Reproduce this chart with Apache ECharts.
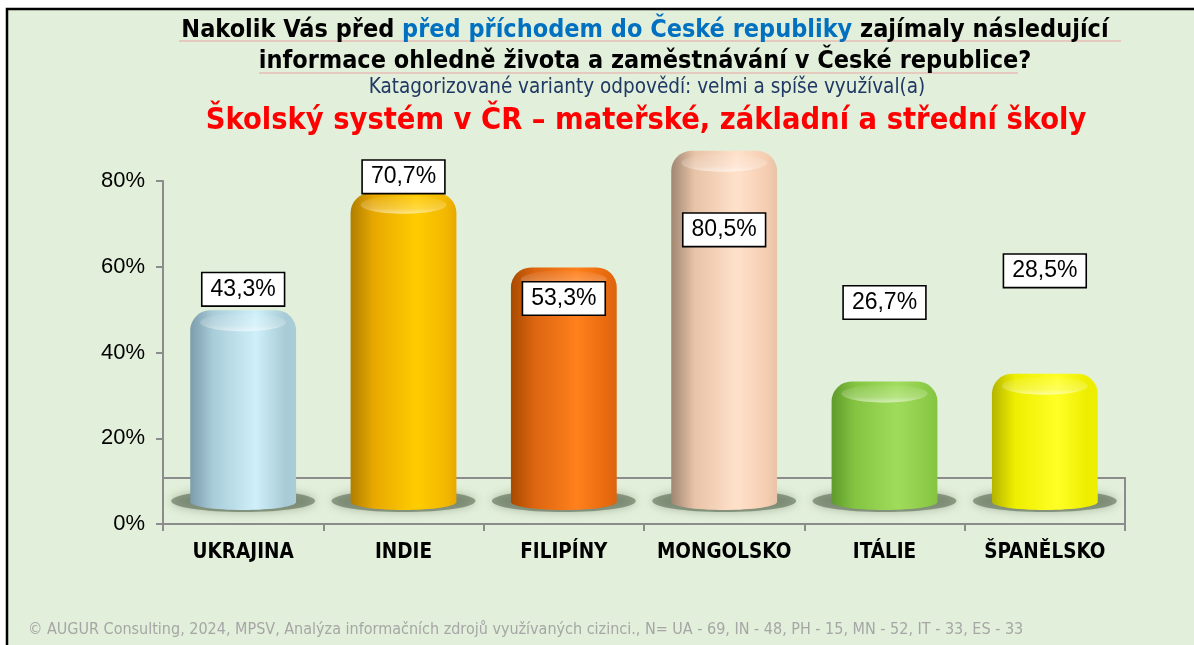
<!DOCTYPE html>
<html>
<head>
    <meta charset="utf-8">
    <script src="https://cdn.jsdelivr.net/npm/echarts@6/dist/echarts.min.js"></script>
    <style>
        html, body { margin: 0; padding: 0; background: #fff; }
        #main { width: 1194px; height: 645px; }
    </style>
</head>
<body>
<div id="main"></div>
<script type="text/javascript">
    var categories = ['UKRAJINA', 'INDIE', 'FILIPÍNY', 'MONGOLSKO', 'ITÁLIE', 'ŠPANĚLSKO'];
    var values = [43.3, 70.7, 53.3, 80.5, 26.7, 28.5];
    var yTicks = [0, 20, 40, 60, 80];

    // label placement relative to the bar top (px), as in the original slide
    var labelDy = [-49, -44, 3, 51, -107, -131];

    // cylinder shading: dark edge, mid, highlight, right edge
    var barColors = [
        ['#7c9dac', '#a9cdd9', '#cff0fa', '#a8cbd6'],
        ['#b07e00', '#e8a800', '#ffcc00', '#f2b800'],
        ['#a84a00', '#dc6510', '#ff801c', '#e86a0e'],
        ['#a08672', '#e8c3a7', '#ffe1ca', '#f5cdb1'],
        ['#5f9a2c', '#84c441', '#a0dc5c', '#8ccb48'],
        ['#b4b400', '#eeee00', '#ffff26', '#eded00']
    ];

    var narrow = '"Liberation Sans Narrow", "Arial Narrow", "DejaVu Sans Condensed", sans-serif';
    var sans = '"Liberation Sans", Arial, sans-serif';

    var myChart = echarts.init(document.getElementById('main'));

    function fmt(v) {
        return v.toFixed(1).replace('.', ',') + '%';
    }

    function renderCylinder(params, api) {
        var i = api.value(0);
        var v = api.value(1);
        var top = api.coord([i, v]);
        var base = api.coord([i, 0]);
        var w = api.size([1, 0])[0] * 0.66;
        var cx = top[0];
        var yT = top[1] - 28;
        var yB = base[1] - 22;
        var rx = w / 2;
        var c = barColors[i];
        var side = new echarts.graphic.LinearGradient(0, 0, 1, 0, [
            {offset: 0, color: c[0]},
            {offset: 0.22, color: c[1]},
            {offset: 0.62, color: c[2]},
            {offset: 0.9, color: c[3]},
            {offset: 1, color: c[1]}
        ]);
        var cap = new echarts.graphic.LinearGradient(0, 0, 0, 1, [
            {offset: 0, color: 'rgba(255,255,255,0.05)'},
            {offset: 0.7, color: 'rgba(255,255,255,0.25)'},
            {offset: 1, color: 'rgba(255,255,255,0.55)'}
        ]);
        return {
            type: 'group',
            children: [
                {
                    type: 'ellipse',
                    shape: {cx: cx, cy: yB - 1, rx: w * 0.68, ry: 11},
                    style: {fill: 'rgba(80,96,72,0.55)', shadowBlur: 10, shadowColor: 'rgba(80,96,72,0.7)'}
                },
                {
                    type: 'ellipse',
                    shape: {cx: cx, cy: yB, rx: rx, ry: 8},
                    style: {fill: side}
                },
                {
                    type: 'rect',
                    shape: {x: cx - rx, y: yT, width: w, height: yB - yT, r: [20, 20, 0, 0]},
                    style: {fill: side}
                },
                {
                    type: 'ellipse',
                    shape: {cx: cx, cy: yT + 12, rx: rx - 10, ry: 9},
                    style: {fill: cap}
                },
                {
                    type: 'text',
                    x: cx,
                    y: top[1] + labelDy[i],
                    style: {
                        text: fmt(v),
                        font: '23px ' + sans,
                        fill: '#000',
                        align: 'center',
                        verticalAlign: 'middle',
                        backgroundColor: '#fff',
                        borderColor: '#000',
                        borderWidth: 1.6,
                        padding: [5, 8, 4, 8]
                    },
                    z2: 10
                }
            ]
        };
    }

    var data = [];
    for (var i = 0; i < values.length; i++) {
        data.push([i, values[i]]);
    }

    var option = {
        backgroundColor: '#ffffff',
        animation: false,
        grid: {left: 163, right: 69, top: 181, bottom: 121},
        graphic: [
            {
                type: 'rect', z: -10,
                shape: {x: 7, y: 9, width: 1260, height: 700},
                style: {fill: '#e2efda', stroke: '#000', lineWidth: 2.5}
            },
            {
                type: 'polyline', z: -5,
                shape: {points: [[163, 478], [1125, 478], [1125, 530]]},
                style: {stroke: '#8c8c8c', lineWidth: 2, fill: null}
            },
            {
                type: 'line', z: -5,
                shape: {x1: 179, y1: 41, x2: 1121, y2: 41},
                style: {stroke: '#eba3a3', lineWidth: 1}
            },
            {
                type: 'line', z: -5,
                shape: {x1: 259, y1: 73, x2: 1018, y2: 73},
                style: {stroke: '#eba3a3', lineWidth: 1}
            },
            {
                type: 'text',
                x: 645, y: 30,
                style: {
                    text: '{a|Nakolik Vás před }{b|před příchodem do České republiky}{a| zajímaly následující}',
                    align: 'center', verticalAlign: 'middle',
                    rich: {
                        a: {font: 'bold 25px ' + narrow, fill: '#000'},
                        b: {font: 'bold 25px ' + narrow, fill: '#0070c0'}
                    }
                }
            },
            {
                type: 'text',
                x: 645, y: 61,
                style: {
                    text: 'informace ohledně života a zaměstnávání v České republice?',
                    font: 'bold 25px ' + narrow, fill: '#000',
                    align: 'center', verticalAlign: 'middle'
                }
            },
            {
                type: 'text',
                x: 647, y: 88,
                style: {
                    text: 'Katagorizované varianty odpovědí: velmi a spíše využíval(a)',
                    font: '20.5px ' + narrow, fill: '#1f3864',
                    align: 'center', verticalAlign: 'middle'
                }
            },
            {
                type: 'text',
                x: 646, y: 121,
                style: {
                    text: 'Školský systém v ČR – mateřské, základní a střední školy',
                    font: 'bold 30.5px ' + narrow, fill: '#ff0000',
                    align: 'center', verticalAlign: 'middle'
                }
            },
            {
                type: 'text',
                x: 28, y: 630,
                style: {
                    text: '© AUGUR Consulting, 2024, MPSV, Analýza informačních zdrojů využívaných cizinci., N= UA - 69, IN - 48, PH - 15, MN - 52, IT - 33, ES - 33',
                    font: '16px ' + narrow, fill: '#a6a6a6',
                    align: 'left', verticalAlign: 'middle'
                }
            }
        ],
        xAxis: {
            type: 'category',
            data: categories,
            axisLine: {show: true, lineStyle: {color: '#8c8c8c', width: 2}},
            axisTick: {show: true, length: 7, lineStyle: {color: '#8c8c8c', width: 2}},
            axisLabel: {
                interval: 0,
                margin: 18,
                color: '#000',
                fontWeight: 'bold',
                fontSize: 20.5,
                fontFamily: narrow
            },
            splitLine: {show: false}
        },
        yAxis: {
            type: 'value',
            min: yTicks[0],
            max: yTicks[yTicks.length - 1],
            interval: yTicks[1] - yTicks[0],
            axisLine: {show: true, lineStyle: {color: '#8c8c8c', width: 2}},
            axisTick: {show: true, length: 7, lineStyle: {color: '#8c8c8c', width: 2}},
            axisLabel: {
                margin: 18,
                color: '#000',
                fontSize: 22,
                fontFamily: sans,
                formatter: '{value}%'
            },
            splitLine: {show: false}
        },
        series: [
            {
                type: 'custom',
                renderItem: renderCylinder,
                clip: false,
                encode: {x: 0, y: 1},
                data: data
            }
        ]
    };

    myChart.setOption(option);

    window.onresize = function() {
        myChart.resize();
    };
</script>
</body>
</html>
